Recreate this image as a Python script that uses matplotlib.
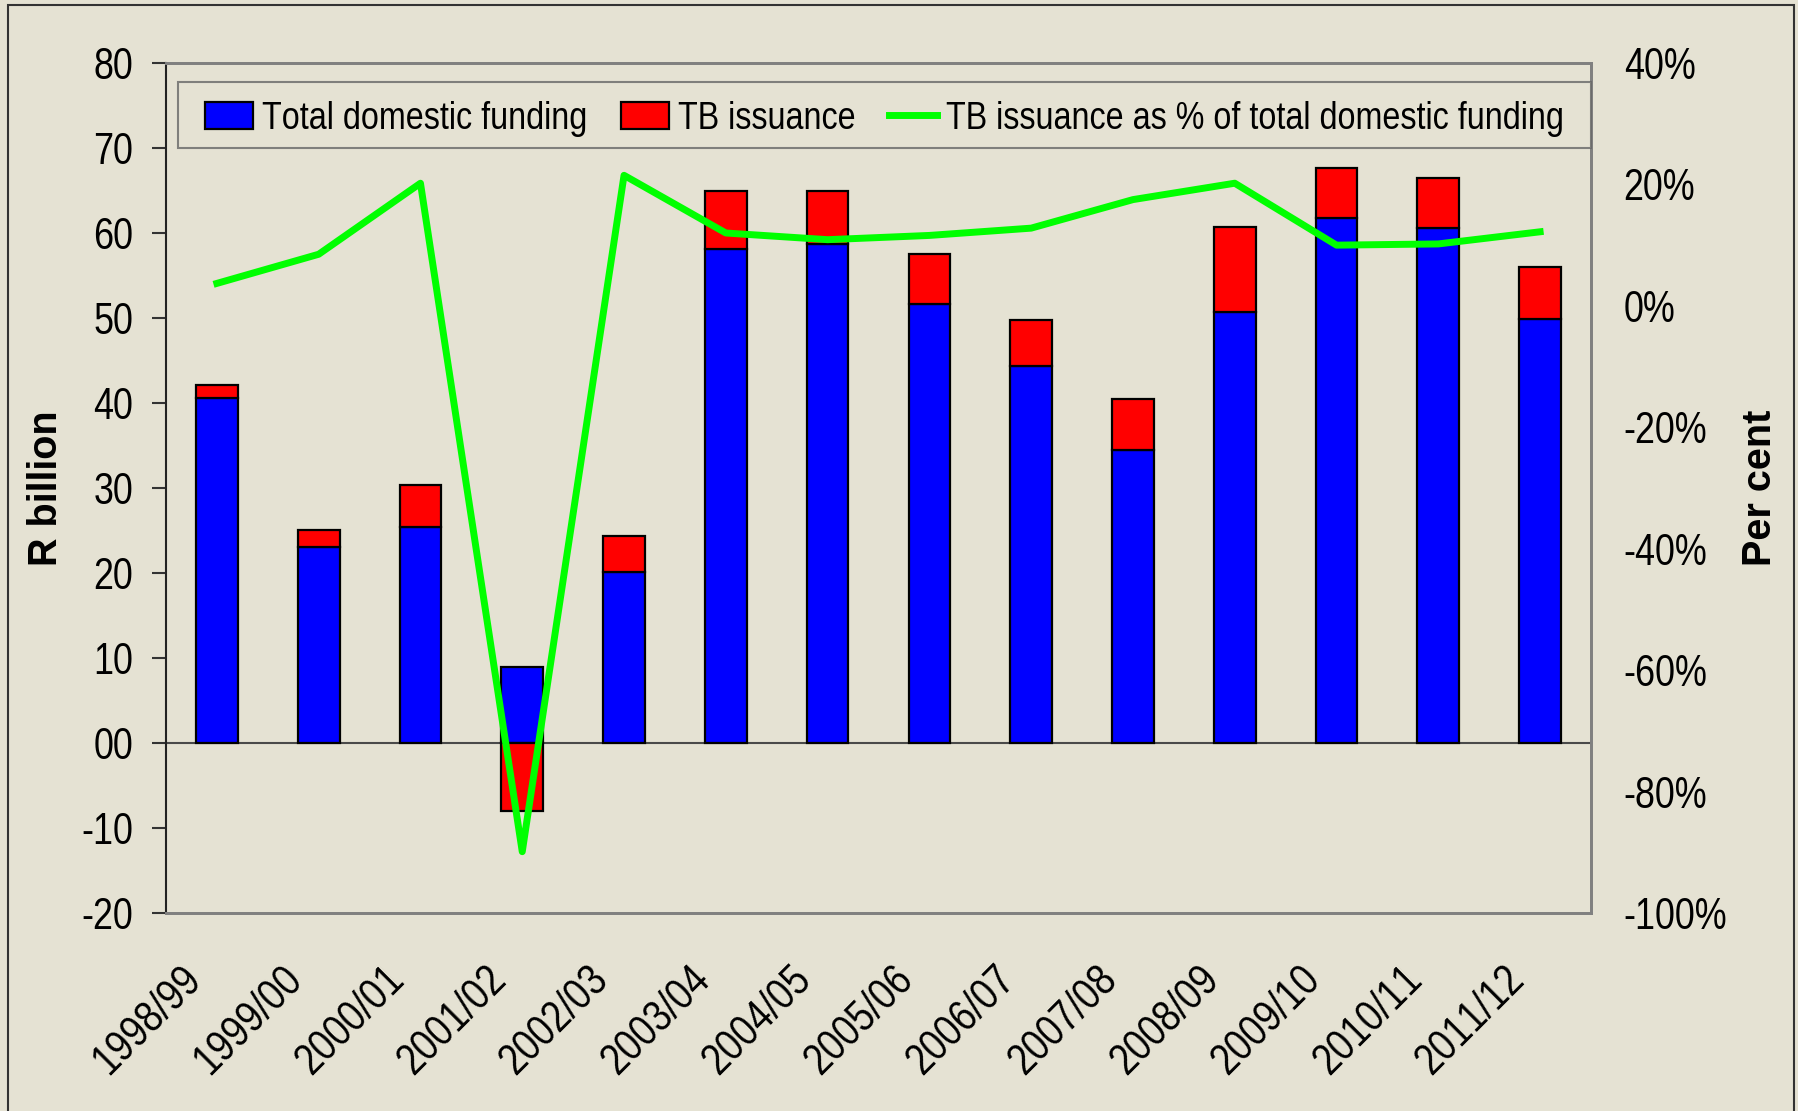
import os
import matplotlib
matplotlib.use('Agg')
import matplotlib.pyplot as plt
import matplotlib.transforms as mtransforms
from matplotlib import font_manager as fm
from matplotlib.patches import Rectangle
from matplotlib.path import Path
import numpy as np

years = ['1998/99', '1999/00', '2000/01', '2001/02', '2002/03', '2003/04', '2004/05',
         '2005/06', '2006/07', '2007/08', '2008/09', '2009/10', '2010/11', '2011/12']
total_funding = [40.6, 23.1, 25.4, 8.9, 20.1, 58.1, 58.7, 51.7, 44.3, 34.5, 50.7, 61.8, 60.6, 49.9]
tb_issuance = [1.5, 2.0, 5.0, -8.0, 4.3, 6.8, 6.2, 5.8, 5.5, 6.0, 10.0, 5.9, 5.9, 6.1]
tb_pct = [3.7, 8.5, 20.2, -89.9, 21.5, 12.0, 10.9, 11.6, 12.8, 17.5, 20.2, 10.0, 10.2, 12.2]
left_ticks = [-20, -10, 0, 10, 20, 30, 40, 50, 60, 70, 80]
left_labels = ['-20', '-10', '00', '10', '20', '30', '40', '50', '60', '70', '80']
right_ticks = [-100, -80, -60, -40, -20, 0, 20, 40]
right_labels = ['-100%', '-80%', '-60%', '-40%', '-20%', '0%', '20%', '40%']

BG = '#E5E2D3'


def make_narrow_font(sx=0.82):
    """Build an Arial-Narrow-like font by condensing Liberation Sans horizontally."""
    try:
        from fontTools.ttLib import TTFont
        src = fm.findfont(fm.FontProperties(family='Liberation Sans'),
                          fallback_to_default=False)
        if 'Liberation' not in os.path.basename(src):
            return None
        f = TTFont(src)
        glyf = f['glyf']
        hmtx = f['hmtx']
        for name in f.getGlyphOrder():
            g = glyf[name]
            if g.isComposite():
                for c in g.components:
                    c.x = int(round(c.x * sx))
            elif g.numberOfContours > 0:
                coords = g.coordinates
                for i in range(len(coords)):
                    xx, yy = coords[i]
                    coords[i] = (int(round(xx * sx)), yy)
            if hasattr(g, 'removeHinting'):
                g.removeHinting()
            adv, lsb = hmtx.metrics[name]
            hmtx.metrics[name] = (int(round(adv * sx)), int(round(lsb * sx)))
        for t in ('hdmx', 'LTSH', 'VDMX', 'fpgm', 'prep', 'cvt ', 'kern', 'GPOS', 'gasp'):
            if t in f:
                del f[t]
        for rec in f['name'].names:
            if rec.nameID in (1, 4, 16):
                rec.string = 'NarrowSansX'
            elif rec.nameID == 6:
                rec.string = 'NarrowSansX-Regular'
        out = os.path.abspath('NarrowSansX.ttf')
        f.save(out)
        fm.fontManager.addfont(out)
        return out
    except Exception:
        return None


NARROW_PATH = make_narrow_font()


def nfont(size):
    if NARROW_PATH:
        return fm.FontProperties(fname=NARROW_PATH, size=size)
    return fm.FontProperties(family='DejaVu Sans', stretch='condensed', size=size * 0.85)


def bfont(size):
    return fm.FontProperties(family=['Liberation Sans', 'DejaVu Sans'], weight='bold', size=size)


class PadSquare:
    """Square frame with extra horizontal padding and a vertical shift of the frame."""
    def __init__(self, hpad_px, vshift_px):
        self.hpad_px = hpad_px
        self.vshift_px = vshift_px

    def __call__(self, x0, y0, width, height, mutation_size):
        p = self.hpad_px
        xa, xb = x0 - p, x0 + width + p
        ya, yb = y0 + self.vshift_px, y0 + height + self.vshift_px
        return Path([(xa, ya), (xb, ya), (xb, yb), (xa, yb), (xa, ya)], closed=True)


fig = plt.figure(figsize=(17.99, 11.11), dpi=100, facecolor=BG)
ax = fig.add_axes([166 / 1799, 1 - 913 / 1111, (1591 - 166) / 1799, (913 - 63) / 1111])
ax.set_facecolor(BG)
ax2 = ax.twinx()

x = np.arange(len(years))
tot = np.array(total_funding)
tb = np.array(tb_issuance)
bottom_tb = np.where(tb >= 0, tot, 0)
w = 0.41
ax.bar(x, tot, w, color='#0000FF', edgecolor='black', linewidth=1.6, zorder=3,
       label='Total domestic funding')
ax.bar(x, tb, w, bottom=bottom_tb, color='#FF0000', edgecolor='black', linewidth=1.6,
       zorder=3, label='TB issuance')
ax.axhline(0, color='#4a4a4a', linewidth=1.5, zorder=2)

ax2.plot(x, tb_pct, color='#00FF00', linewidth=5, zorder=5,
         label='TB issuance as % of total domestic funding')

ax.set_xlim(-0.5, len(years) - 0.5)
ax.set_ylim(-20, 80)
ax2.set_ylim(-100, 40)

ax.set_yticks(left_ticks)
ax.set_yticklabels(left_labels, fontproperties=nfont(31.5))
ax.tick_params(axis='y', length=10, width=1.5, color='#333333', pad=13.5)
ax2.set_yticks(right_ticks)
ax2.set_yticklabels(right_labels, fontproperties=nfont(31.5))
ax2.tick_params(axis='y', length=0, pad=23.5)

ax.set_xticks(x)
ax.set_xticklabels(years, fontproperties=nfont(32.5), rotation=45, ha='right',
                   rotation_mode='anchor', va='top')
ax.tick_params(axis='x', length=0, pad=33)
off = mtransforms.ScaledTranslation(-37 / 100, 0, fig.dpi_scale_trans)
for lab in ax.get_xticklabels():
    lab.set_transform(lab.get_transform() + off)

ax.set_ylabel('R billion', fontproperties=bfont(28.5))
ax.yaxis.label.set_va('center')
ax.yaxis.set_label_coords((46 - 166) / 1425, 0.5)
ax2.set_ylabel('Per cent', fontproperties=bfont(28.5))
ax2.yaxis.label.set_va('center')
ax2.yaxis.set_label_coords((1760 - 166) / 1425, 0.5)

for a in (ax, ax2):
    for s in a.spines.values():
        s.set_color('#808080')
        s.set_linewidth(2)
ax.spines['left'].set_color('#222222')
ax.spines['left'].set_linewidth(1.5)
ax2.spines['left'].set_visible(False)

hpad = 12
vshift = 4
h1, l1 = ax.get_legend_handles_labels()
h2, l2 = ax2.get_legend_handles_labels()
leg = ax2.legend(h1 + h2, l1 + l2, loc='center left', ncol=3, mode='expand',
                 bbox_to_anchor=((178 + hpad - 166) / 1425, (913 - 149 - vshift) / 850,
                                 (1591 - 178 - 2 * hpad) / 1425, 68 / 850),
                 frameon=True, fancybox=False, prop=nfont(28.4),
                 handlelength=1.22, handleheight=0.67, handletextpad=0.22,
                 borderaxespad=0, borderpad=0.38)
frame = leg.get_frame()
frame.set_boxstyle(PadSquare(hpad, vshift))
frame.set_edgecolor('#666666')
frame.set_linewidth(1.5)
frame.set_facecolor(BG)

fig.patches.append(Rectangle((8 / 1799, -0.01), (1794 - 8) / 1799, 1 - 5 / 1111 + 0.01,
                             transform=fig.transFigure, fill=False,
                             edgecolor='#333333', linewidth=1.5))

fig.savefig('out.png', dpi=100, facecolor=BG)
